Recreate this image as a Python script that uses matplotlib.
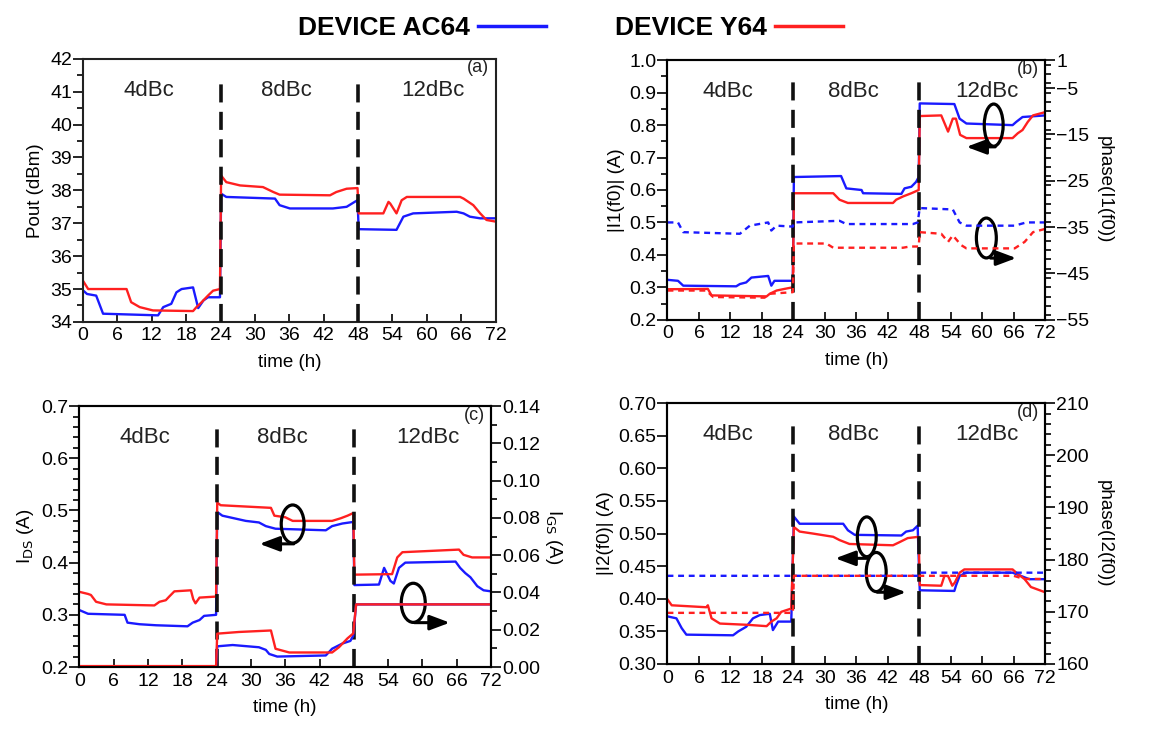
import numpy as np
import matplotlib.pyplot as plt
from matplotlib.patches import Ellipse
from matplotlib.lines import Line2D
from matplotlib.ticker import MultipleLocator

plt.rcParams['font.family'] = ['Liberation Sans', 'DejaVu Sans']

BLUE = '#1a1aff'
RED = '#ff2020'

# time ticks (h) and stress levels
time_ticks = np.arange(0, 73, 6)
levels = ['4dBc', '8dBc', '12dBc']
level_x = [11.5, 35.5, 61.0]
boundaries = [24, 48]

# (a) Pout (dBm) -- [time h, value]
pout_ac64 = np.array([
    [0, 34.96], [0.7, 34.85], [2.3, 34.8], [3.5, 34.25], [13.1, 34.2], [14, 34.45],
    [15.4, 34.55], [16.3, 34.9], [17.2, 35.0], [19.2, 35.05], [20.1, 34.42],
    [21, 34.65], [21.8, 34.75], [23.9, 34.75], [24.1, 37.9], [25, 37.8],
    [33.5, 37.75], [34.3, 37.55], [36.1, 37.45], [43.6, 37.45], [46, 37.5],
    [47.4, 37.65], [47.9, 37.7], [48.1, 36.82], [54.7, 36.8], [55.9, 37.2],
    [57.6, 37.3], [65.2, 37.35], [66.4, 37.3], [67.5, 37.2], [69.3, 37.15], [72, 37.15]])
pout_y64 = np.array([
    [0, 35.25], [0.9, 35.0], [7.6, 35.0], [8.4, 34.6], [9.9, 34.45], [12.2, 34.35],
    [19.2, 34.33], [19.8, 34.45], [20.7, 34.6], [21.8, 34.8], [22.7, 34.95],
    [23.9, 35.0], [24.1, 38.45], [25, 38.25], [27.4, 38.15], [31.4, 38.1],
    [33.2, 37.95], [34.3, 37.87], [43.1, 37.85], [44.2, 37.95], [46, 38.05],
    [47.9, 38.07], [48.1, 37.3], [52.4, 37.3], [53.3, 37.65], [53.6, 37.6],
    [54.7, 37.3], [55.6, 37.7], [56.5, 37.8], [65.8, 37.8], [66.4, 37.75],
    [68.1, 37.55], [69.3, 37.3], [70.4, 37.1], [72, 37.05]])

# (b) |I1(f0)| (A) and phase(I1(f0)) (deg)
i1_ac64 = np.array([
    [0, 0.323], [2, 0.32], [3, 0.305], [13.1, 0.303], [13.8, 0.31], [15, 0.315],
    [16, 0.33], [19.2, 0.335], [19.8, 0.305], [20.4, 0.32], [23.9, 0.32],
    [24.1, 0.64], [33.1, 0.643], [34.1, 0.605], [37, 0.6], [37.3, 0.59],
    [44.6, 0.588], [45.2, 0.605], [46.5, 0.61], [47.4, 0.625], [47.9, 0.64],
    [48.1, 0.867], [54.7, 0.865], [55.7, 0.82], [57, 0.805], [65.8, 0.8],
    [66.5, 0.81], [67.7, 0.825], [72, 0.83]])
i1_y64 = np.array([
    [0, 0.294], [7.7, 0.295], [8.4, 0.275], [18.9, 0.272], [19.5, 0.28],
    [20.8, 0.29], [22.3, 0.295], [23.9, 0.3], [24.1, 0.59], [31.6, 0.59],
    [32.8, 0.57], [34.4, 0.56], [43, 0.56], [43.6, 0.57], [44.9, 0.58],
    [46.5, 0.59], [47.9, 0.6], [48.1, 0.828], [52.2, 0.83], [53.5, 0.78],
    [54.4, 0.82], [55, 0.82], [55.8, 0.77], [57, 0.76], [65.8, 0.76],
    [66.8, 0.775], [67.7, 0.785], [68.7, 0.81], [69.7, 0.83], [72, 0.84]])
ph1_ac64 = np.array([
    [0, -34.0], [2, -34.0], [3, -36.1], [13.8, -36.45], [15.7, -34.7],
    [19.2, -34.0], [19.8, -35.75], [20.8, -34.7], [23.9, -34.9], [24.1, -34.0],
    [32.8, -33.65], [34.1, -34.35], [46.8, -34.35], [47.7, -34.0], [48.1, -30.9],
    [54.4, -31.2], [55.7, -34.0], [57, -34.7], [66.2, -34.7], [68.4, -34.0], [72, -34.0]])
ph1_y64 = np.array([
    [0, -48.7], [7.4, -48.7], [8.7, -50.1], [18.5, -50.24], [19.5, -49.4],
    [23.9, -49.05], [24.1, -38.55], [30.3, -38.55], [31.6, -39.46], [44.9, -39.46],
    [46.2, -39.2], [47.9, -39.2], [48.1, -36.1], [52.2, -36.45], [53.5, -38.2],
    [54.4, -36.8], [56, -38.9], [57, -39.6], [66.2, -39.6], [68.1, -38.2],
    [69.7, -36.1], [72, -35.4]])

# (c) IDS (A) and IGS (A)
ids_ac64 = np.array([
    [0, 0.309], [1.5, 0.302], [7.9, 0.3], [8.4, 0.285], [10.5, 0.282], [13.4, 0.28],
    [18.9, 0.278], [19.8, 0.285], [21, 0.29], [21.8, 0.298], [23.9, 0.3],
    [24.1, 0.497], [25, 0.49], [29.1, 0.48], [31.4, 0.477], [32.6, 0.47],
    [34.3, 0.465], [43.1, 0.462], [44.2, 0.47], [46, 0.475], [47.9, 0.478],
    [48.1, 0.357], [52.4, 0.358], [53.3, 0.39], [54.4, 0.365], [55, 0.36],
    [55.9, 0.39], [57, 0.4], [65.8, 0.402], [66.6, 0.39], [67.5, 0.38],
    [68.4, 0.372], [69.6, 0.355], [70.7, 0.347], [72, 0.345]])
ids_y64 = np.array([
    [0, 0.344], [1.5, 0.34], [2, 0.338], [2.9, 0.325], [4.7, 0.32], [13.1, 0.318],
    [14, 0.325], [15.1, 0.328], [15.7, 0.335], [16.6, 0.345], [19.5, 0.347],
    [19.9, 0.33], [20.3, 0.322], [21, 0.333], [23.9, 0.335], [24.1, 0.515],
    [24.7, 0.51], [33.5, 0.505], [34.1, 0.49], [36, 0.487], [37.3, 0.48],
    [44.2, 0.48], [45.7, 0.485], [46.9, 0.49], [47.9, 0.495], [48.1, 0.377],
    [54.7, 0.378], [55.6, 0.41], [56.5, 0.42], [66.4, 0.425], [67.2, 0.415],
    [68.7, 0.41], [72, 0.41]])
igs_ac64 = np.array([
    [0, 0.0003], [23.9, 0.0003], [24.1, 0.0111], [26.8, 0.0118], [31.4, 0.0106],
    [32.6, 0.0092], [33.2, 0.007], [34.6, 0.0056], [43.1, 0.0062], [44.2, 0.0098],
    [46, 0.0126], [47.4, 0.014], [47.9, 0.0168], [48.4, 0.0336], [72, 0.0336]])
igs_y64 = np.array([
    [0, 0.0005], [23.9, 0.0005], [24.1, 0.0179], [27.9, 0.0188], [33.5, 0.0196],
    [34.3, 0.0098], [36.7, 0.0078], [44.2, 0.0078], [45.4, 0.0106], [46.9, 0.0154],
    [47.9, 0.018], [48.4, 0.0336], [72, 0.0336]])

# (d) |I2(f0)| (A) and phase(I2(f0)) (deg)
i2_ac64 = np.array([
    [0, 0.373], [1.7, 0.37], [2.7, 0.355], [3.6, 0.345], [12.5, 0.344], [13.5, 0.35],
    [15, 0.357], [16.3, 0.37], [17.6, 0.375], [19.5, 0.377], [20.1, 0.352],
    [21.1, 0.365], [23.6, 0.365], [24.1, 0.526], [25.2, 0.515], [33.5, 0.515],
    [34.4, 0.505], [35.7, 0.498], [44.6, 0.497], [45.5, 0.503], [46.8, 0.505],
    [47.7, 0.512], [48.1, 0.413], [54.7, 0.412], [55, 0.42], [55.7, 0.435],
    [57, 0.44], [65.8, 0.44], [67.4, 0.435], [69, 0.43], [72, 0.43]])
i2_y64 = np.array([
    [0, 0.399], [0.8, 0.39], [7.4, 0.387], [7.7, 0.39], [8.4, 0.37], [10, 0.362],
    [15.4, 0.36], [18.9, 0.358], [19.8, 0.365], [20.8, 0.37], [21.7, 0.38],
    [23.6, 0.385], [24.1, 0.51], [25.2, 0.503], [27.7, 0.5], [31.6, 0.495],
    [32.8, 0.49], [34.7, 0.484], [43, 0.482], [44.3, 0.487], [45.8, 0.493],
    [47.9, 0.495], [48.1, 0.421], [52.2, 0.42], [52.8, 0.435], [53.5, 0.435],
    [54.3, 0.42], [54.8, 0.425], [55.7, 0.44], [56.6, 0.445], [65.8, 0.445],
    [66.5, 0.44], [68.1, 0.43], [69.3, 0.418], [72, 0.41]])
ph2_ac64 = np.array([[0, 176.9], [47.9, 176.9], [48.1, 177.5], [72, 177.5]])
ph2_y64 = np.array([[0, 169.8], [23.9, 169.8], [24.1, 176.9], [66, 176.9],
                    [68, 176.3], [72, 176.3]])

TICK_FS = 14
LABEL_FS = 13.5


def setup_time_axis(ax):
    ax.set_xlim(0, 72)
    ax.set_xticks(time_ticks)
    ax.tick_params(axis='x', direction='in', length=6, width=1.2, labelsize=TICK_FS, pad=4)
    ax.set_xlabel('time (h)', fontsize=LABEL_FS, labelpad=7)
    for s in ax.spines.values():
        s.set_linewidth(1.5)
        s.set_color('#222222')


def decorate(ax, tag, ymin, ymax):
    # boundaries between stress levels and their labels
    for b in boundaries:
        ax.plot([b, b], [ymin, ymin + 0.93 * (ymax - ymin)], color='#111111', lw=2.6,
                dashes=(5, 2.6), zorder=4)
    for name, x in zip(levels, level_x):
        ax.text(x, ymin + 0.88 * (ymax - ymin), name, fontsize=16, ha='center',
                va='center', color='#222222')
    ax.text(0.985, 0.998, tag, transform=ax.transAxes, fontsize=13, ha='right',
            va='top', color='#222222')


def ring(ax, x, y, w, h, x_arrow, y_arrow, x_start):
    ax.add_patch(Ellipse((x, y), w, h, fill=False, lw=2.3, ec='black', zorder=6))
    ax.annotate('', xy=(x_arrow, y_arrow), xytext=(x_start, y_arrow),
                arrowprops=dict(arrowstyle='-|>,head_length=1.2,head_width=0.45',
                                color='black', lw=2.2, shrinkA=0, shrinkB=0), zorder=6)


def y_ticks(ax, minor):
    if minor:
        ax.yaxis.set_minor_locator(MultipleLocator(minor))
    ax.tick_params(axis='y', which='major', direction='out', length=7, width=1.2,
                   labelsize=TICK_FS, pad=1)
    ax.tick_params(axis='y', which='minor', direction='out', length=4, width=1.2)


fig = plt.figure(figsize=(11.69, 7.35), dpi=100)
ax_a = fig.add_axes([0.071, 0.562, 0.353, 0.358])
ax_b = fig.add_axes([0.571, 0.565, 0.323, 0.353])
ax_c = fig.add_axes([0.068, 0.0925, 0.352, 0.355])
ax_d = fig.add_axes([0.571, 0.0966, 0.323, 0.355])

# (a)
ax_a.plot(pout_ac64[:, 0], pout_ac64[:, 1], color=BLUE, lw=1.7)
ax_a.plot(pout_y64[:, 0], pout_y64[:, 1], color=RED, lw=1.7)
ax_a.set_ylim(34, 42)
ax_a.yaxis.set_major_locator(MultipleLocator(1))
y_ticks(ax_a, 0.5)
ax_a.set_ylabel('Pout (dBm)', fontsize=LABEL_FS, labelpad=4)
setup_time_axis(ax_a)
decorate(ax_a, '(a)', 34, 42)

# (b)
ax_b2 = ax_b.twinx()
ax_b.plot(i1_ac64[:, 0], i1_ac64[:, 1], color=BLUE, lw=1.7)
ax_b.plot(i1_y64[:, 0], i1_y64[:, 1], color=RED, lw=1.7)
ax_b2.plot(ph1_ac64[:, 0], ph1_ac64[:, 1], color=BLUE, lw=1.7, dashes=(2.5, 2))
ax_b2.plot(ph1_y64[:, 0], ph1_y64[:, 1], color=RED, lw=1.7, dashes=(2.5, 2))
ax_b.set_ylim(0.2, 1.0)
ax_b2.set_ylim(-55, 1)
ax_b.yaxis.set_major_locator(MultipleLocator(0.1))
y_ticks(ax_b, 0.05)
ax_b.yaxis.set_major_formatter(lambda v, p: f'{v:.1f}')
ax_b2.set_yticks([1, -5, -15, -25, -35, -45, -55])
y_ticks(ax_b2, 2)
ax_b.set_ylabel('|I1(f0)| (A)', fontsize=LABEL_FS, labelpad=3)
ax_b2.set_ylabel('phase(I1(f0))', fontsize=LABEL_FS, rotation=270, labelpad=17)
setup_time_axis(ax_b)
for s in ax_b2.spines.values():
    s.set_linewidth(1.5)
decorate(ax_b, '(b)', 0.2, 1.0)
ring(ax_b, 62.2, 0.80, 3.6, 0.13, 57.0, 0.733, 62.5)
ring(ax_b, 60.8, 0.452, 3.8, 0.123, 66.5, 0.39, 61.6)

# (c)
ax_c2 = ax_c.twinx()
ax_c.plot(ids_ac64[:, 0], ids_ac64[:, 1], color=BLUE, lw=1.7)
ax_c.plot(ids_y64[:, 0], ids_y64[:, 1], color=RED, lw=1.7)
ax_c2.plot(igs_ac64[:, 0], igs_ac64[:, 1], color=BLUE, lw=1.7)
ax_c2.plot(igs_y64[:, 0], igs_y64[:, 1], color=RED, lw=1.7)
ax_c.set_ylim(0.2, 0.7)
ax_c2.set_ylim(0, 0.14)
ax_c.yaxis.set_major_locator(MultipleLocator(0.1))
y_ticks(ax_c, 0.02)
ax_c.yaxis.set_major_formatter(lambda v, p: f'{v:.1f}')
ax_c2.yaxis.set_major_locator(MultipleLocator(0.02))
y_ticks(ax_c2, 0.01)
ax_c2.yaxis.set_major_formatter(lambda v, p: f'{v:.2f}')
ax_c.set_ylabel(r'I$_{\rm DS}$ (A)', fontsize=LABEL_FS, labelpad=4)
ax_c2.set_ylabel(r'I$_{\rm GS}$ (A)', fontsize=LABEL_FS, rotation=270, labelpad=17)
setup_time_axis(ax_c)
for s in ax_c2.spines.values():
    s.set_linewidth(1.5)
decorate(ax_c, '(c)', 0.2, 0.7)
ring(ax_c, 37.3, 0.474, 4.0, 0.073, 31.5, 0.436, 37.5)
ring(ax_c, 58.4, 0.323, 4.2, 0.075, 64.8, 0.285, 58.6)

# (d)
ax_d2 = ax_d.twinx()
ax_d.plot(i2_ac64[:, 0], i2_ac64[:, 1], color=BLUE, lw=1.7)
ax_d.plot(i2_y64[:, 0], i2_y64[:, 1], color=RED, lw=1.7)
ax_d2.plot(ph2_ac64[:, 0], ph2_ac64[:, 1], color=BLUE, lw=1.7, dashes=(2.5, 2))
ax_d2.plot(ph2_y64[:, 0], ph2_y64[:, 1], color=RED, lw=1.7, dashes=(2.5, 2))
ax_d.set_ylim(0.3, 0.7)
ax_d2.set_ylim(160, 210)
ax_d.yaxis.set_major_locator(MultipleLocator(0.05))
y_ticks(ax_d, None)
ax_d.yaxis.set_major_formatter(lambda v, p: f'{v:.2f}')
ax_d2.yaxis.set_major_locator(MultipleLocator(10))
y_ticks(ax_d2, 2)
ax_d.set_ylabel('|I2(f0)| (A)', fontsize=LABEL_FS, labelpad=3)
ax_d2.set_ylabel('phase(I2(f0))', fontsize=LABEL_FS, rotation=270, labelpad=17)
setup_time_axis(ax_d)
for s in ax_d2.spines.values():
    s.set_linewidth(1.5)
decorate(ax_d, '(d)', 0.3, 0.7)
ring(ax_d, 38.0, 0.495, 3.6, 0.061, 32.0, 0.462, 38.2)
ring(ax_d, 39.8, 0.441, 3.8, 0.06, 45.5, 0.41, 40.0)

# legend on top
handles = [Line2D([], [], color=BLUE, lw=2.5), Line2D([], [], color=RED, lw=2.5)]
fig.legend(handles, ['DEVICE AC64', 'DEVICE Y64'], loc='center', ncol=2,
           bbox_to_anchor=(0.488, 0.962), frameon=False, markerfirst=False,
           handlelength=2.6, columnspacing=2.6, handletextpad=0.3,
           prop={'family': ['Liberation Sans Narrow', 'Liberation Sans'],
                 'weight': 'bold', 'size': 19})

fig.savefig('out.png', dpi=100)
